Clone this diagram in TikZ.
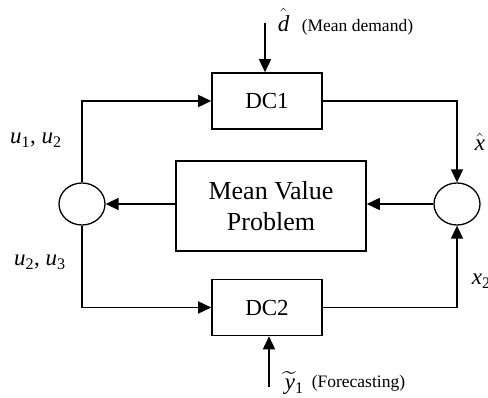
\documentclass[tikz,border=0pt]{standalone}
\usepackage{fontspec}
\setmainfont{Liberation Serif}
\usepackage{amsmath}
\usetikzlibrary{arrows.meta,shapes.geometric}

\newcommand{\vsub}[2]{\textit{#1}\textsubscript{#2}}

\begin{document}
\begin{tikzpicture}[x=1pt,y=-1pt,line width=1.6pt,
  block/.style={draw,rectangle,minimum width=110pt,minimum height=56pt,inner sep=0pt,font=\fontsize{23}{27}\selectfont},
  junction/.style={draw,ellipse,minimum width=46pt,minimum height=42pt,inner sep=0pt,line width=1.3pt},
  flow/.style={-{Triangle[length=13pt,width=12pt]}},
  lbl/.style={inner sep=0pt,font=\fontsize{23}{27}\selectfont},
  note/.style={inner sep=0pt,font=\fontsize{17.5}{20}\selectfont}]

\useasboundingbox (0,0) rectangle (488,398);

% blocks
\node [block] (dcA) at (267,101) {DC1};
\node [block] (dcB) at (267,307.5) {DC2};
\node [block, minimum width=190pt, minimum height=90pt, align=center, font=\fontsize{26}{31}\selectfont] (mvp) at (271,206) {Mean Value\\Problem};

% summing points
\node [junction] (sumL) at (82,204) {};
\node [junction] (sumR) at (457,204) {};

% outer inputs
\coordinate (dIn) at (265,23);
\coordinate (yIn) at (269,387);
\draw [flow] (dIn) -- (dIn |- dcA.north);
\draw [flow] (yIn) -- (yIn |- dcB.south);

% loop
\draw [flow] (sumL.north) |- (dcA.west);
\draw [flow] (dcA.east) -| (sumR.north);
\draw [flow] (sumR.west) -- (sumR.west -| mvp.east);
\draw [flow] (sumL.east -| mvp.west) -- (sumL.east);
\draw [flow] (sumL.south) |- (dcB.west);
\draw [flow] (dcB.east) -| (sumR.south);

% labels
\node [lbl, anchor=west] (dLbl) at (277,20) {$\hat{\text{\itshape d}}$};
\node [note, anchor=west] (dTxt) at (301,27) {(Mean demand)};
\node [lbl, anchor=west] (yLbl) at (284,383) {$\widetilde{\text{\itshape y}}$\textsubscript{1}};
\node [note, anchor=west] (yTxt) at (311,383) {(Forecasting)};
\node [lbl] (uTop) at (36,140) {\vsub{u}{1}, \vsub{u}{2}};
\node [lbl] (uBot) at (40,262) {\vsub{u}{2}, \vsub{u}{3}};
\node [lbl, anchor=west] (xHat) at (474,142) {$\hat{\text{\itshape x}}$};
\node [lbl, anchor=west] (xTwo) at (471,281) {\vsub{x}{2}};

\end{tikzpicture}
\end{document}
